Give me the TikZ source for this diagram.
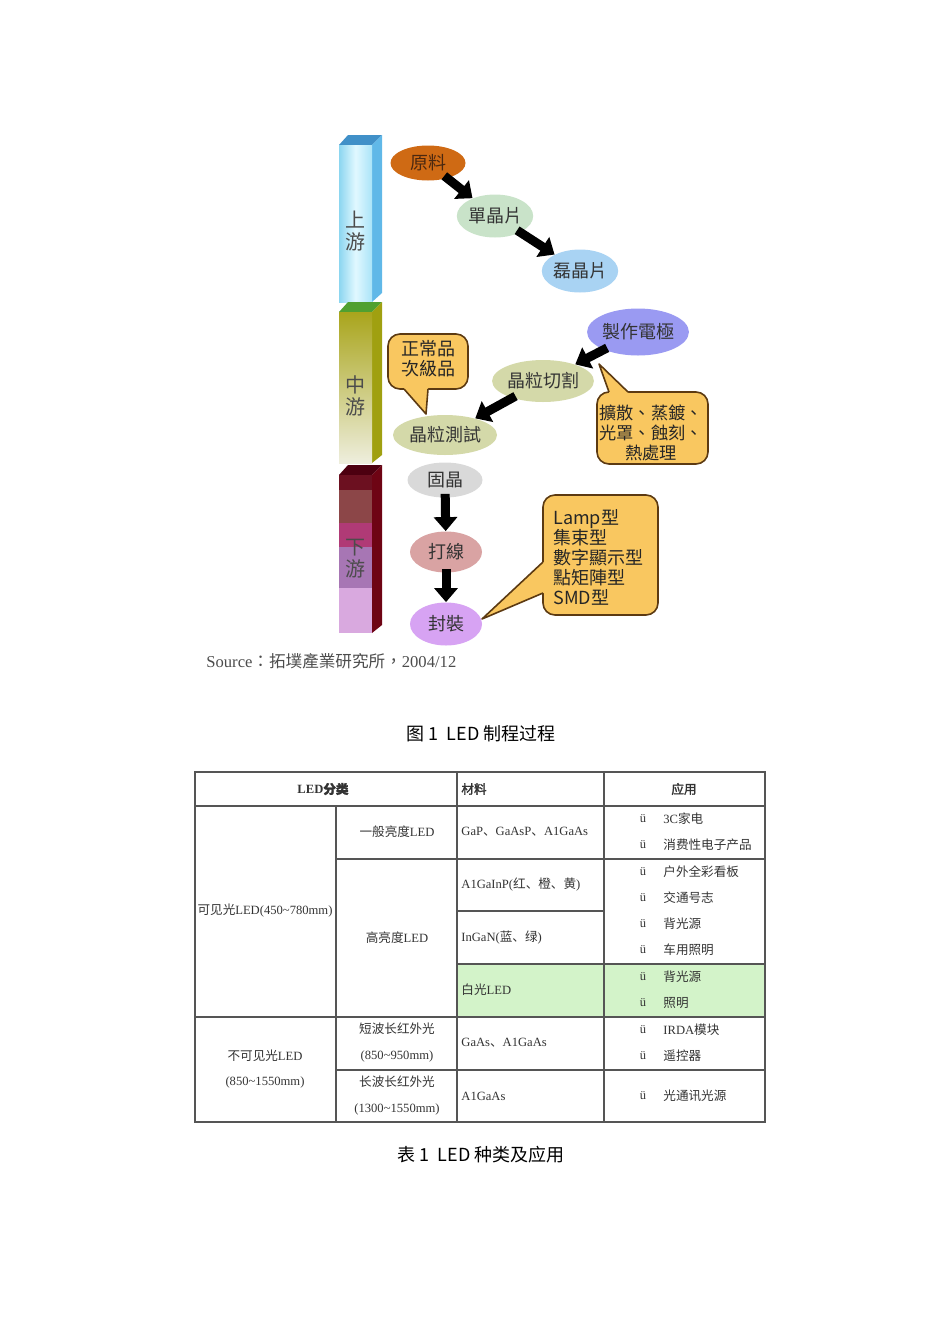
\documentclass[tikz,border=0pt]{standalone}
\usepackage{fontspec}
\setmainfont{Liberation Serif}
\newfontfamily\tcfont{Noto Sans CJK TC}
\newfontfamily\scfont{Noto Sans CJK SC}
\newfontfamily\scbold[FakeBold=2]{Noto Sans CJK SC}
\newcommand\zh[1]{{\scfont #1}}
\newcommand\zhb[1]{{\scbold #1}}
\usetikzlibrary{arrows.meta,shapes.geometric}
\definecolor{orBox}{HTML}{F9C760}
\definecolor{brLine}{HTML}{5C3A12}
\definecolor{txt}{HTML}{333333}
\definecolor{cYL}{HTML}{CF6A14}
\definecolor{cDJ}{HTML}{C9E3C9}
\definecolor{cLJ}{HTML}{A9D3F3}
\definecolor{cZZ}{HTML}{9A9AF2}
\definecolor{cKH}{HTML}{D4D9A9}
\definecolor{cGJ}{HTML}{D9D9D9}
\definecolor{cDX}{HTML}{D9A3A3}
\definecolor{cFZ}{HTML}{D7A3F3}
\definecolor{tLine}{HTML}{555555}
\definecolor{tGreen}{HTML}{D3F3C9}
\begin{document}
\begin{tikzpicture}[x=0.5pt,y=-0.5pt,
  stage/.style={ellipse, inner sep=0pt, text=txt, font=\tcfont\fontsize{9pt}{10pt}\selectfont},
  flow/.style={draw=black, line width=4.5pt, shorten <=-2pt, -{Triangle[length=7pt,width=11.5pt]}},
  callout/.style={fill=orBox, draw=brLine, line width=0.8pt, rounded corners=6pt},
  tailfill/.style={fill=orBox},
  tailline/.style={draw=brLine, line width=0.8pt, line join=round},
  ctext/.style={inner sep=0pt, text=black!85, font=\tcfont\fontsize{9pt}{10pt}\selectfont},
  barlbl/.style={inner sep=0pt, align=center, text=black!70, font=\tcfont\fontsize{10pt}{11pt}\selectfont},
  tline/.style={draw=tLine, line width=0.6pt},
  tt/.style={inner sep=0pt, text=black!80, font=\fontsize{6.3pt}{7pt}\selectfont},
  captxt/.style={inner sep=0pt, text=black, font=\scfont\fontsize{9pt}{10pt}\selectfont}]
\useasboundingbox (0,0) rectangle (950,1344);

% ---- stage bars ----
% upstream
\fill[fill={rgb,255:red,64;green,144;blue,200}] (339,145) -- (348,135) -- (382,135) -- (372,145) -- cycle;
\fill[fill={rgb,255:red,96;green,184;blue,232}] (372,145) -- (382,135) -- (382,293) -- (372,302) -- cycle;
\shade[left color={rgb,255:red,140;green,214;blue,240}, right color={rgb,255:red,170;green,228;blue,248}, middle color={rgb,255:red,225;green,248;blue,255}] (339,145) rectangle (372,302);
% midstream
\fill[fill={rgb,255:red,80;green,160;blue,48}] (339,312) -- (348,302) -- (382,302) -- (372,312) -- cycle;
\fill[fill={rgb,255:red,160;green,160;blue,16}] (372,312) -- (382,302) -- (382,455) -- (372,463) -- cycle;
\shade[top color={rgb,255:red,169;green,165;blue,28}, middle color={rgb,255:red,201;green,198;blue,138}, bottom color={rgb,255:red,238;green,238;blue,221}] (339,312) rectangle (372,463);
% downstream
\fill[fill={rgb,255:red,77;green,0;blue,16}] (339,475) -- (348,465) -- (382,465) -- (372,475) -- cycle;
\fill[fill={rgb,255:red,110;green,4;blue,20}] (372,475) -- (382,465) -- (382,625) -- (372,633) -- cycle;
\fill[fill={rgb,255:red,108;green,16;blue,32}] (339,475) rectangle (372,490);
\fill[fill={rgb,255:red,140;green,70;blue,72}] (339,490) rectangle (372,523);
\fill[fill={rgb,255:red,176;green,58;blue,118}] (339,523) rectangle (372,547);
\fill[fill={rgb,255:red,167;green,118;blue,180}] (339,547) rectangle (372,588);
\fill[fill={rgb,255:red,217;green,169;blue,223}] (339,588) rectangle (372,633);

\node[barlbl] (bu) at (355,231) {上\\游};
\node[barlbl] (bm) at (355,396) {中\\游};
\node[barlbl] (bd) at (355,559) {下\\游};

% ---- process nodes ----
\node[stage, fill=cYL, text={rgb,255:red,74;green,40;blue,16}, minimum width=37.5pt, minimum height=17.5pt] (yl) at (428,163) {原料};
\node[stage, fill=cDJ, minimum width=38pt, minimum height=21.5pt] (dj) at (495,216) {單晶片};
\node[stage, fill=cLJ, minimum width=37.5pt, minimum height=21.5pt] (lj) at (580,271) {磊晶片};
\node[stage, fill=cZZ, minimum width=41.5pt, minimum height=23.5pt] (zz) at (638,332) {製作電極};
\node[stage, fill=cKH, minimum width=50pt, minimum height=21pt] (qg) at (543,381) {晶粒切割};
\node[stage, fill=cKH, minimum width=52pt, minimum height=20pt] (cs) at (445,435) {晶粒測試};
\node[stage, fill=cGJ, minimum width=37.5pt, minimum height=17.5pt] (gj) at (445,480) {固晶};
\node[stage, fill=cDX, minimum width=36pt, minimum height=20.5pt] (dx) at (446,552) {打線};
\node[stage, fill=cFZ, minimum width=36pt, minimum height=21.5pt] (fz) at (446,624) {封裝};

\draw[flow] (yl) -- (dj);
\draw[flow] (dj) -- (lj);
\draw[flow] (zz) -- (qg);
\draw[flow] (qg) -- (cs);
\draw[flow] (gj) -- (dx);
\draw[flow] (dx) -- (fz);

% ---- callouts ----
\draw[callout] (388,334) rectangle (468,389);
\fill[tailfill] (404,385) -- (404,389) -- (426,414) -- (428,389) -- (428,385) -- cycle;
\draw[tailline] (404,389) -- (426,414) -- (428,389);
\node[ctext, align=left] (cq) at (428,359) {正常品\\次級品};

\draw[callout] (597,392) rectangle (708,464);
\fill[tailfill] (609,396) -- (609,392) -- (599,364) -- (628,392) -- (628,396) -- cycle;
\draw[tailline] (609,392) -- (599,364) -- (628,392);
\node[ctext, align=center, font=\tcfont\fontsize{8.6pt}{10pt}\selectfont] (cp) at (651,433) {擴散、蒸鍍、\\光罩、蝕刻、\\熱處理};

\draw[callout] (543,495) rectangle (658,615);
\fill[tailfill] (547,562) -- (543,562) -- (482,619) -- (543,593) -- (547,593) -- cycle;
\draw[tailline] (543,562) -- (482,619) -- (543,593);
\node[ctext, align=left, anchor=west] (ct) at (553,557) {Lamp型\\集束型\\數字顯示型\\點矩陣型\\SMD型};

\node[inner sep=0pt, anchor=west, text=black!70, font=\fontsize{8.3pt}{9pt}\selectfont] (src) at (206,661) {Source{\tcfont ：拓墣產業研究所，}2004/12};

\node[captxt] (cap1) at (481,734) {图 1\ \ LED 制程过程};

% ---- table ----
\fill[tGreen] (457,964) rectangle (765,1017);
\draw[tline] (195,772) rectangle (765,1122);
\draw[tline] (195,806) -- (765,806);
\draw[tline] (336,859) -- (765,859);
\draw[tline] (457,911) -- (604,911);
\draw[tline] (457,964) -- (765,964);
\draw[tline] (195,1017) -- (765,1017);
\draw[tline] (336,1070) -- (765,1070);
\draw[tline] (336,806) -- (336,1122);
\draw[tline] (457,772) -- (457,1122);
\draw[tline] (604,772) -- (604,1122);

\node[tt] (h1) at (323,789) {\bfseries LED\zhb{分类}};
\node[tt, anchor=west] (h2) at (461,789) {\zhb{材料}};
\node[tt] (h3) at (684,789) {\zhb{应用}};

\node[tt] (c1) at (265,911) {\zh{可见光}LED(450\textasciitilde780mm)};
\node[tt] (c2) at (397,832) {\zh{一般亮度}LED};
\node[tt] (c3) at (397,938) {\zh{高亮度}LED};
\node[tt] (c4) at (265,1056) {\zh{不可见光}LED};
\node[tt] (c5) at (265,1082) {(850\textasciitilde1550mm)};
\node[tt] (c6) at (397,1029) {\zh{短波长红外光}};
\node[tt] (c7) at (397,1056) {(850\textasciitilde950mm)};
\node[tt] (c8) at (397,1082) {\zh{长波长红外光}};
\node[tt] (c9) at (397,1109) {(1300\textasciitilde1550mm)};

\node[tt, anchor=west] (m1) at (461,832) {GaP\zh{、}GaAsP\zh{、}A1GaAs};
\node[tt, anchor=west] (m2) at (461,885) {A1GaInP(\zh{红、橙、黄})};
\node[tt, anchor=west] (m3) at (461,938) {InGaN(\zh{蓝、绿})};
\node[tt, anchor=west] (m4) at (461,990) {\zh{白光}LED};
\node[tt, anchor=west] (m5) at (461,1043) {GaAs\zh{、}A1GaAs};
\node[tt, anchor=west] (m6) at (461,1096) {A1GaAs};

\foreach \y/\t [count=\i] in {819/{3C\zh{家电}}, 845/{\zh{消费性电子产品}}, 872/{\zh{户外全彩看板}}, 898/{\zh{交通号志}}, 924/{\zh{背光源}}, 950/{\zh{车用照明}}, 977/{\zh{背光源}}, 1003/{\zh{照明}}, 1030/{IRDA\zh{模块}}, 1056/{\zh{遥控器}}, 1096/{\zh{光通讯光源}}} {
  \node[tt] (bl\i) at (643,\y) {ü};
  \node[tt, anchor=west] (ap\i) at (663,\y) {\t};
}

\node[captxt] (cap2) at (481,1155) {表 1\ \ LED 种类及应用};
\end{tikzpicture}
\end{document}
